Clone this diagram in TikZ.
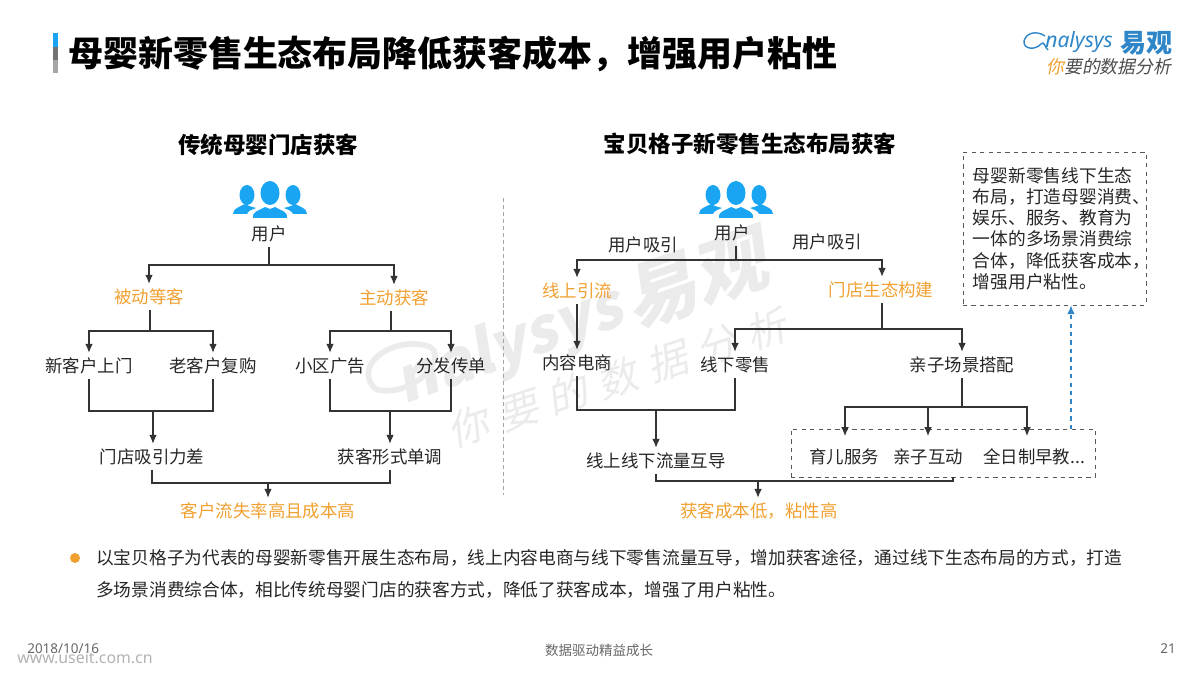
\documentclass[tikz,border=0pt]{standalone}
\usepackage{fontspec}
\usetikzlibrary{arrows.meta}
\setmainfont{Noto Sans CJK SC}
\newfontfamily\latinfont{Noto Sans}
\newfontfamily\slantfont[FakeSlant=0.2]{Noto Sans CJK SC}
\newfontfamily\markfont[FakeSlant=0.2,LetterSpace=28]{Noto Sans CJK SC}
\definecolor{ysorange}{HTML}{F0A030}
\definecolor{ysblue}{HTML}{1AA5F2}
\definecolor{logoblue}{HTML}{2E86C8}
\definecolor{linegray}{HTML}{333333}
\definecolor{markgray}{HTML}{EBEBEB}
\tikzset{
  item/.style={minimum height=0.65cm, inner sep=0pt, font=\fontsize{12.4}{15}\selectfont, text=black!85},
  goal/.style={item, text=ysorange},
  head/.style={inner sep=0pt, font=\fontsize{16}{19}\selectfont\bfseries},
  foot/.style={inner sep=0pt, font=\fontsize{9.6}{11}\selectfont, text=black!60},
  body/.style={inner sep=0pt, anchor=west, font=\fontsize{12.58}{15}\selectfont, text=black!85},
  line/.style={linegray, line width=0.8pt},
  arrow/.style={line, -{Latex[length=2.2mm,width=1.9mm]}},
  notebox/.style={draw=black!65, dashed, line width=0.5pt, inner xsep=0.25cm, inner ysep=0pt, text width=4.075cm, minimum height=3.825cm, align=left, font=\fontsize{12.6}{15.1}\selectfont, text=black!85},
  groupbox/.style={draw=black!65, dashed, line width=0.5pt, minimum width=7.6cm, minimum height=1.2cm, inner sep=0pt},
  usericon/.pic={
    \fill[ysblue] (-23,-23) ellipse (7.5 and 10);
    \fill[ysblue] (23,-23) ellipse (7.5 and 10);
    \fill[ysblue] (0,-25) ellipse (9.5 and 12);
    \fill[ysblue] (-37,-4) .. controls (-37,-10) and (-30,-11) .. (-25,-14) -- (-21,-12) -- (-14,-10) .. controls (-19,-8) and (-22,-7) .. (-23,-4) -- cycle;
    \fill[ysblue] (37,-4) .. controls (37,-10) and (30,-11) .. (25,-14) -- (21,-12) -- (14,-10) .. controls (19,-8) and (22,-7) .. (23,-4) -- cycle;
    \fill[ysblue] (-17,0) .. controls (-19,-6) and (-10,-8) .. (-5,-11) -- (0,-9) -- (5,-11) .. controls (10,-8) and (19,-6) .. (17,0) -- cycle;
  }
}
\begin{document}
\begin{tikzpicture}[x=0.025cm, y=-0.025cm]
\useasboundingbox (0,0) rectangle (1200,675);

\draw[markgray, line width=4pt] (372,385) .. controls (355,360) and (400,335) .. (430,347) .. controls (445,355) and (425,385) .. (395,390) .. controls (380,392) and (375,390) .. (372,385);
\node[rotate=20, inner sep=0pt, text=markgray] (marka) at (510,347) {\fontsize{44}{48}\selectfont\slantfont\bfseries nalysys};
\node[rotate=19, inner sep=0pt, text=markgray] (markb) at (695,280) {\fontsize{52}{56}\selectfont\slantfont\bfseries 易观};
\node[rotate=18, inner sep=0pt, text=markgray] (markc) at (617,378) {\fontsize{29}{34}\selectfont\markfont 你要的数据分析};

\fill[ysblue] (53,33) rectangle (58,47);
\fill[black!55] (53,47) rectangle (58,60);
\fill[black!35] (53,60) rectangle (58,73);
\node[inner sep=0pt, anchor=west, font=\fontsize{24.85}{28}\selectfont\bfseries] (title) at (68,54) {母婴新零售生态布局降低获客成本，增强用户粘性};

\draw[logoblue, line width=1pt] (1045,36) .. controls (1036,30) and (1026,33) .. (1024,41) .. controls (1023,50) and (1036,50) .. (1041,44) .. controls (1044,40) and (1045,48) .. (1048,50);
\node[inner sep=0pt, anchor=west, text=logoblue, font=\fontsize{15}{16}\selectfont\latinfont\itshape] (logoa) at (1045,42) {nalysys};
\node[inner sep=0pt, anchor=west, text=logoblue, font=\fontsize{18.5}{20}\selectfont\bfseries] (logob) at (1120,43) {易观};
\node[inner sep=0pt, anchor=west, text=black!70, font=\fontsize{12.7}{14}\selectfont\slantfont] (logoc) at (1046,67) {\textcolor{ysorange}{你}要的数据分析};

\node[head] (lefthead) at (268,145) {传统母婴门店获客};
\node[head] (righthead) at (750,144) {宝贝格子新零售生态布局获客};

\pic (lefticon) at (270,218) {usericon};
\pic (righticon) at (736,218) {usericon};

\coordinate (septop) at (503,198);
\coordinate (sepbot) at (503,495);
\draw[black!35, densely dashed, line width=0.4pt] (septop) -- (sepbot);

\node[item] (luser) at (269,234) {用户};
\node[goal] (passive) at (149,297) {被动等客};
\node[goal] (active) at (394,298) {主动获客};
\node[item] (newc) at (89,366) {新客户上门};
\node[item] (oldc) at (213,366) {老客户复购};
\node[item] (adv) at (330,366) {小区广告};
\node[item] (flyer) at (451,366) {分发传单};
\node[item] (weak) at (152,457) {门店吸引力差};
\node[item] (dull) at (390,457) {获客形式单调};
\node[goal] (lresult) at (268,511) {客户流失率高且成本高};

\coordinate (lj) at (269,265);
\coordinate (pj) at (150,331);
\coordinate (aj) at (391,331);
\coordinate (wj) at (153,411);
\coordinate (dj) at (390,411);
\coordinate (rj) at (268,483);
\draw[line] (luser.south) -- (lj);
\draw[arrow] (lj) -| (passive.north);
\draw[arrow] (lj) -| (active.north);
\draw[line] (passive.south -| pj) -- (pj);
\draw[arrow] (pj) -| (newc.north);
\draw[arrow] (pj) -| (oldc.north);
\draw[line] (active.south -| aj) -- (aj);
\draw[arrow] (aj) -| (adv.north);
\draw[arrow] (aj) -| (flyer.north);
\draw[line] (newc.south) |- (wj) -| (oldc.south);
\draw[arrow] (wj) -- (weak.north -| wj);
\draw[line] (adv.south) |- (dj) -| (flyer.south);
\draw[arrow] (dj) -- (dull.north);
\draw[line] (weak.south) |- (rj) -| (dull.south);
\draw[arrow] (rj) -- (lresult.north);

\node[item] (ruser) at (732,233) {用户};
\node[item] (attl) at (643,245) {用户吸引};
\node[item] (attr) at (827,242) {用户吸引};
\node[goal] (online) at (577,291) {线上引流};
\node[goal] (store) at (881,290) {门店生态构建};
\node[item] (content) at (577,363) {内容电商};
\node[item] (retail) at (735,365) {线下零售};
\node[item] (family) at (962,365) {亲子场景搭配};
\node[item] (flow) at (656,461) {线上线下流量互导};
\node[groupbox] (group) at (943,453) {};
\node[item] (care) at (844,457) {育儿服务};
\node[item] (play) at (928,457) {亲子互动};
\node[item] (edu) at (1034,457) {全日制早教...};
\node[goal] (rresult) at (759,511) {获客成本低，粘性高};
\node[notebox] (note) at (1054.5,228.5) {母婴新零售线下生态\\布局，打造母婴消费、\\娱乐、服务、教育为\\一体的多场景消费综\\合体，降低获客成本，\\增强用户粘性。};

\coordinate (ruj) at (736,260);
\coordinate (sj) at (882,329);
\coordinate (cj) at (656,410);
\coordinate (fj) at (962,407);
\coordinate (gbot) at (953,477);
\coordinate (gj) at (758,481);
\coordinate (gtop) at (1071,429);
\coordinate (carein) at (845,436);
\coordinate (playin) at (928,436);
\coordinate (eduin) at (1027,436);
\draw[line] (ruser.south -| ruj) -- (ruj);
\draw[arrow] (ruj) -| (online.north);
\draw[arrow] (ruj) -| (store.north -| sj);
\draw[arrow] (online.south) -- (content.north);
\draw[line] (store.south -| sj) -- (sj);
\draw[arrow] (sj) -| (retail.north);
\draw[arrow] (sj) -| (family.north);
\draw[line] (content.south) |- (cj) -| (retail.south);
\draw[arrow] (cj) -- (flow.north);
\draw[line] (family.south) -- (fj);
\draw[arrow] (fj) -| (carein);
\draw[arrow] (fj) -| (playin);
\draw[arrow] (fj) -| (eduin);
\draw[line] (flow.south) |- (gj) -| (gbot);
\draw[arrow] (gj) -- (rresult.north -| gj);
\draw[dashed, -{Latex[length=2.2mm,width=1.9mm]}, logoblue, line width=0.9pt] (gtop) -- (note.south -| gtop);

\fill[ysorange] (75,558) circle (5);
\node[body] (bulleta) at (96,558) {以宝贝格子为代表的母婴新零售开展生态布局，线上内容电商与线下零售流量互导，增加获客途径，通过线下生态布局的方式，打造};
\node[body] (bulletb) at (96,590) {多场景消费综合体，相比传统母婴门店的获客方式，降低了获客成本，增强了用户粘性。};

\node[foot, anchor=west] (date) at (27,649) {\latinfont 2018/10/16};
\node[inner sep=0pt, anchor=west, text=black!30, font=\fontsize{11.3}{13}\selectfont\latinfont\bfseries] (site) at (17,658) {www.useit.com.cn};
\node[foot] (slogan) at (599,650) {数据驱动精益成长};
\node[foot] (page) at (1168,649) {\latinfont 21};
\end{tikzpicture}
\end{document}
